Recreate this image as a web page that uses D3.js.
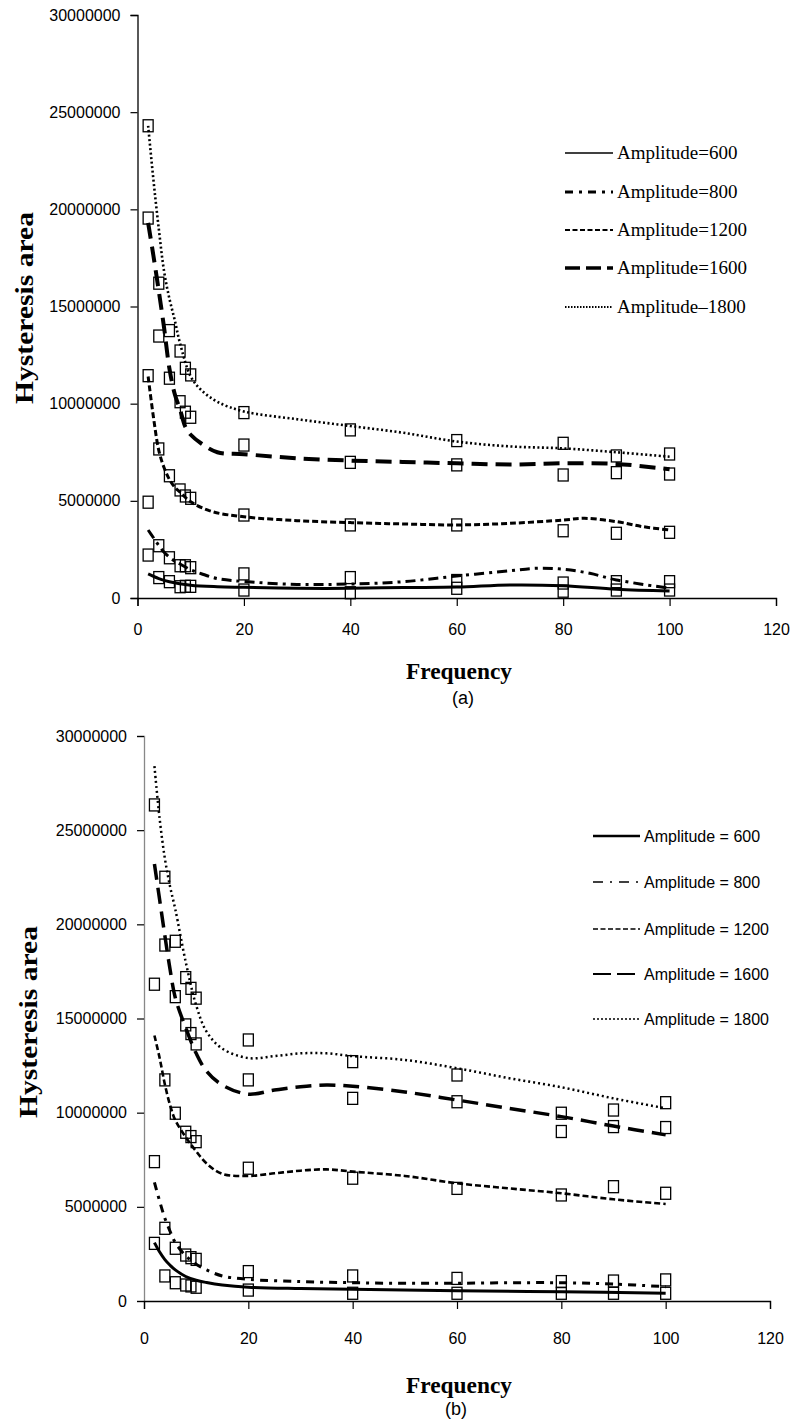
<!DOCTYPE html>
<html><head><meta charset="utf-8">
<script src="https://cdn.jsdelivr.net/npm/d3@7"></script>
<style>body{margin:0;background:#fff} svg{display:block}</style>
</head><body>
<svg id="c" width="792" height="1420"></svg>
<script>
// ---------- shared categories / ticks ----------
const freqs = [2, 4, 6, 8, 9, 10, 20, 40, 60, 80, 90, 100];
const amplitudes = [600, 800, 1200, 1600, 1800];
const xTickValues = [0, 20, 40, 60, 80, 100, 120];
const yTickValues = [0, 5, 10, 15, 20, 25, 30];            // millions
const yTickLabels = ["0", "5000000", "10000000", "15000000", "20000000", "25000000", "30000000"];

// ---------- panel (a): measured points (millions), one per freq ----------
const a600  = [2.21, 1.05, 0.84, 0.58, 0.60, 0.60, 0.41, 0.27, 0.50, 0.35, 0.41, 0.41];
const a800  = [4.93, 2.69, 2.07, 1.66, 1.66, 1.56, 1.24, 1.05, 0.90, 0.77, 0.84, 0.84];
const a1200 = [11.44, 7.67, 6.29, 5.56, 5.25, 5.13, 4.27, 3.76, 3.76, 3.46, 3.33, 3.38];
const a1600 = [19.55, 13.48, 11.31, 10.10, 9.56, 9.30, 7.87, 6.98, 6.85, 6.33, 6.45, 6.38];
const a1800 = [24.30, 16.20, 13.76, 12.71, 11.82, 11.48, 9.54, 8.65, 8.10, 7.96, 7.31, 7.41];

// ---------- panel (a): trend curves [freq, millions] ----------
const a600Fit  = [[2,1.24],[4,1.0],[6,0.84],[10,0.66],[15,0.58],[20,0.55],[30,0.5],[40,0.5],[50,0.54],[60,0.56],[70,0.67],[80,0.63],[90,0.45],[100,0.36]];
const a800Fit  = [[2,3.5],[3,3.1],[4,2.7],[5,2.35],[6,2.1],[7,1.9],[8,1.75],[10,1.45],[12,1.25],[15,1.0],[20,0.85],[30,0.7],[40,0.72],[50,0.84],[60,1.13],[70,1.4],[75,1.53],[80,1.48],[85,1.27],[90,0.93],[100,0.5]];
const a1200Fit = [[2,11.4],[3,9.3],[4,7.6],[5,6.7],[6,6.1],[7,5.7],[8,5.45],[10,4.95],[14,4.45],[20,4.18],[30,3.98],[40,3.88],[50,3.81],[60,3.76],[70,3.84],[80,4.01],[84,4.1],[90,3.93],[95,3.67],[100,3.5]];
const a1600Fit = [[2,19.3],[3,17.6],[4,15.8],[5,13.9],[6,11.8],[7,10.5],[8,9.7],[9,8.8],[10,8.4],[12,7.95],[15,7.5],[20,7.4],[30,7.19],[40,7.07],[50,7.0],[60,6.93],[70,6.87],[80,6.93],[90,6.9],[100,6.62]];
const a1800Fit = [[2,24.3],[3,21.5],[4,19.0],[5,16.8],[6,15.4],[7,14.3],[8,13.1],[10,11.4],[12,10.7],[15,10.1],[20,9.6],[30,9.2],[40,8.85],[50,8.5],[60,8.05],[70,7.8],[80,7.7],[90,7.5],[100,7.27]];

// ---------- panel (b): measured points (millions); null = no marker ----------
const b600  = [3.06, 1.33, 0.97, 0.85, 0.80, 0.73, 0.58, 0.41, 0.41, 0.41, 0.41, 0.41];
const b800  = [7.40, 3.86, 2.80, 2.44, 2.30, 2.21, 1.56, 1.33, 1.20, 1.03, 1.06, 1.12];
const b1200 = [16.82, 11.74, 9.97, 8.96, 8.73, 8.46, 7.05, 6.52, 5.98, 5.63, 6.07, 5.72];
const b1600 = [null, 18.90, 16.16, 14.66, 14.20, 13.65, 11.74, 10.76, 10.58, 9.00, 9.26, 9.21];
const b1800 = [26.34, 22.50, 19.10, 17.17, 16.60, 16.08, 13.86, 12.71, 12.00, 9.97, 10.14, 10.53];

// ---------- panel (b): trend curves ----------
const b600Fit  = [[2,3.1],[3,2.6],[4,2.2],[5,1.9],[6,1.65],[8,1.3],[10,1.1],[12,0.98],[15,0.85],[20,0.73],[30,0.66],[40,0.62],[60,0.55],[80,0.49],[100,0.41]];
const b800Fit  = [[2,6.3],[3,5.3],[4,4.4],[5,3.7],[6,3.1],[8,2.4],[10,1.95],[12,1.65],[15,1.33],[20,1.15],[30,1.03],[40,0.97],[50,0.94],[60,0.94],[70,0.97],[80,0.97],[90,0.9],[100,0.76]];
const b1200Fit = [[2,14.1],[3,12.9],[4,11.5],[5,10.4],[6,9.6],[8,8.7],[10,7.95],[12,7.3],[15,6.75],[20,6.64],[25,6.78],[30,6.92],[35,6.99],[40,6.87],[50,6.64],[60,6.25],[70,5.98],[80,5.72],[90,5.4],[100,5.15]];
const b1600Fit = [[2,23.2],[3,21.3],[4,19.4],[5,17.6],[6,16.1],[8,14.5],[10,13.15],[12,12.2],[15,11.47],[20,10.98],[25,11.2],[30,11.38],[35,11.47],[40,11.4],[50,11.1],[60,10.67],[70,10.23],[80,9.79],[90,9.29],[100,8.82]];
const b1800Fit = [[2,28.4],[3,25.6],[4,23.5],[5,22.0],[6,20.8],[8,18.0],[10,15.7],[12,14.3],[15,13.4],[20,12.9],[25,13.0],[30,13.15],[35,13.15],[40,13.0],[50,12.8],[60,12.36],[70,11.83],[80,11.35],[90,10.76],[100,10.23]];

// ---------- text ----------
const legendA = ["Amplitude=600", "Amplitude=800", "Amplitude=1200", "Amplitude=1600", "Amplitude\u20131800"];
const legendB = ["Amplitude = 600", "Amplitude = 800", "Amplitude = 1200", "Amplitude = 1600", "Amplitude = 1800"];

const svg = d3.select("#c");
const serif = "'Liberation Serif','Times New Roman',serif";
const sans = "'Liberation Sans',Arial,sans-serif";

function panel(cfg) {
  const x = d3.scaleLinear().domain([0, 120]).range(cfg.xr);
  const y = d3.scaleLinear().domain([0, 30]).range(cfg.yr);
  const g = svg.append("g");

  // axes
  const yAxis = d3.axisLeft(y).tickValues(yTickValues).tickSize(7).tickPadding(10)
    .tickFormat((d, i) => yTickLabels[i]);
  const ga = g.append("g").attr("transform", `translate(${cfg.xr[0]},0)`).call(yAxis);
  ga.select(".domain").attr("stroke", cfg.yAxisColor).attr("stroke-width", 1.3);
  ga.selectAll(".tick line").attr("stroke", "#000").attr("stroke-width", 1.2);
  ga.selectAll("text").attr("font-family", sans).attr("font-size", 16).attr("fill", "#000");

  const xAxis = d3.axisBottom(x).tickValues(xTickValues).tickSize(8).tickPadding(cfg.xPad);
  const gx = g.append("g").attr("transform", `translate(0,${cfg.yr[0]})`).call(xAxis);
  gx.select(".domain").attr("stroke", "#000").attr("stroke-width", 1.3);
  gx.selectAll(".tick line").attr("stroke", "#000").attr("stroke-width", 1.2);
  gx.selectAll("text").attr("font-family", sans).attr("font-size", 16).attr("fill", "#000");

  // markers
  cfg.points.forEach(vals => {
    g.append("g").selectAll("rect")
      .data(freqs.map((f, i) => [f, vals[i]]).filter(d => d[1] != null)).join("rect")
      .attr("x", d => x(d[0]) - 5).attr("y", d => y(d[1]) - 6)
      .attr("width", 10).attr("height", 12)
      .attr("fill", "none").attr("stroke", "#000").attr("stroke-width", 1.3);
  });

  // fitted curves
  const line = d3.line().x(d => x(d[0])).y(d => y(d[1])).curve(d3.curveCatmullRom.alpha(0.5));
  cfg.fits.forEach((fit, i) => {
    const s = cfg.styles[i];
    g.append("path").datum(fit).attr("d", line)
      .attr("fill", "none").attr("stroke", "#000")
      .attr("stroke-width", s.w).attr("stroke-dasharray", s.dash);
  });

  // legend
  cfg.legend.forEach((t, i) => {
    const s = cfg.legStyles[i];
    const yy = cfg.legY[i];
    g.append("line").attr("x1", cfg.legX[0]).attr("x2", cfg.legX[1]).attr("y1", yy).attr("y2", yy)
      .attr("stroke", "#000").attr("stroke-width", s.w).attr("stroke-dasharray", s.dash);
    g.append("text").attr("x", cfg.legX[1] + 4).attr("y", yy + 6)
      .attr("font-family", cfg.legFont).attr("font-size", cfg.legSize).text(t);
  });

  // titles
  g.append("text").attr("transform", `translate(${cfg.yTitle[0]},${cfg.yTitle[1]}) rotate(-90)`)
    .attr("text-anchor", "middle").attr("font-family", serif).attr("font-weight", "bold")
    .attr("font-size", 26).attr("textLength", 192).attr("lengthAdjust", "spacingAndGlyphs")
    .text("Hysteresis area");
  g.append("text").attr("x", cfg.xTitle[0]).attr("y", cfg.xTitle[1])
    .attr("text-anchor", "middle").attr("font-family", serif).attr("font-weight", "bold")
    .attr("font-size", 24).attr("textLength", 106).attr("lengthAdjust", "spacingAndGlyphs")
    .text("Frequency");
  g.append("text").attr("x", cfg.cap[0]).attr("y", cfg.cap[1])
    .attr("text-anchor", "middle").attr("font-family", sans).attr("font-size", 18)
    .text(cfg.capText);
}

panel({
  xr: [137.5, 776], yr: [598, 15], yAxisColor: "#000", xPad: 18,
  points: [a600, a800, a1200, a1600, a1800],
  fits: [a600Fit, a800Fit, a1200Fit, a1600Fit, a1800Fit],
  styles: [{w: 3, dash: null}, {w: 3, dash: "10,5,3,5"}, {w: 3, dash: "6,3"}, {w: 4, dash: "16,8"}, {w: 2.6, dash: "2,2.5"}],
  legend: legendA, legX: [565, 613], legY: [153, 192, 230, 268, 307],
  legStyles: [{w: 1.5, dash: null}, {w: 3, dash: "8,6,3,6"}, {w: 2, dash: "5,2.5"}, {w: 3.5, dash: "15,6"}, {w: 2, dash: "1.5,1.5"}],
  legFont: serif, legSize: 19,
  yTitle: [33, 308], xTitle: [459, 679], cap: [463, 704], capText: "(a)"
});

panel({
  xr: [144, 770], yr: [1301, 736], yAxisColor: "#888", xPad: 24,
  points: [b600, b800, b1200, b1600, b1800],
  fits: [b600Fit, b800Fit, b1200Fit, b1600Fit, b1800Fit],
  styles: [{w: 3, dash: null}, {w: 3, dash: "8,6,3,6"}, {w: 2.6, dash: "6,3"}, {w: 3.5, dash: "16,8"}, {w: 2.5, dash: "2,3"}],
  legend: legendB, legX: [593, 640], legY: [836, 882, 929, 974, 1019],
  legStyles: [{w: 2.5, dash: null}, {w: 1.6, dash: "10,7,2,7"}, {w: 1.5, dash: "5,2.5"}, {w: 1.8, dash: "18,6"}, {w: 1.6, dash: "2,2"}],
  legFont: sans, legSize: 16,
  yTitle: [37, 1022], xTitle: [459, 1393], cap: [456, 1415], capText: "(b)"
});
</script>
</body></html>
